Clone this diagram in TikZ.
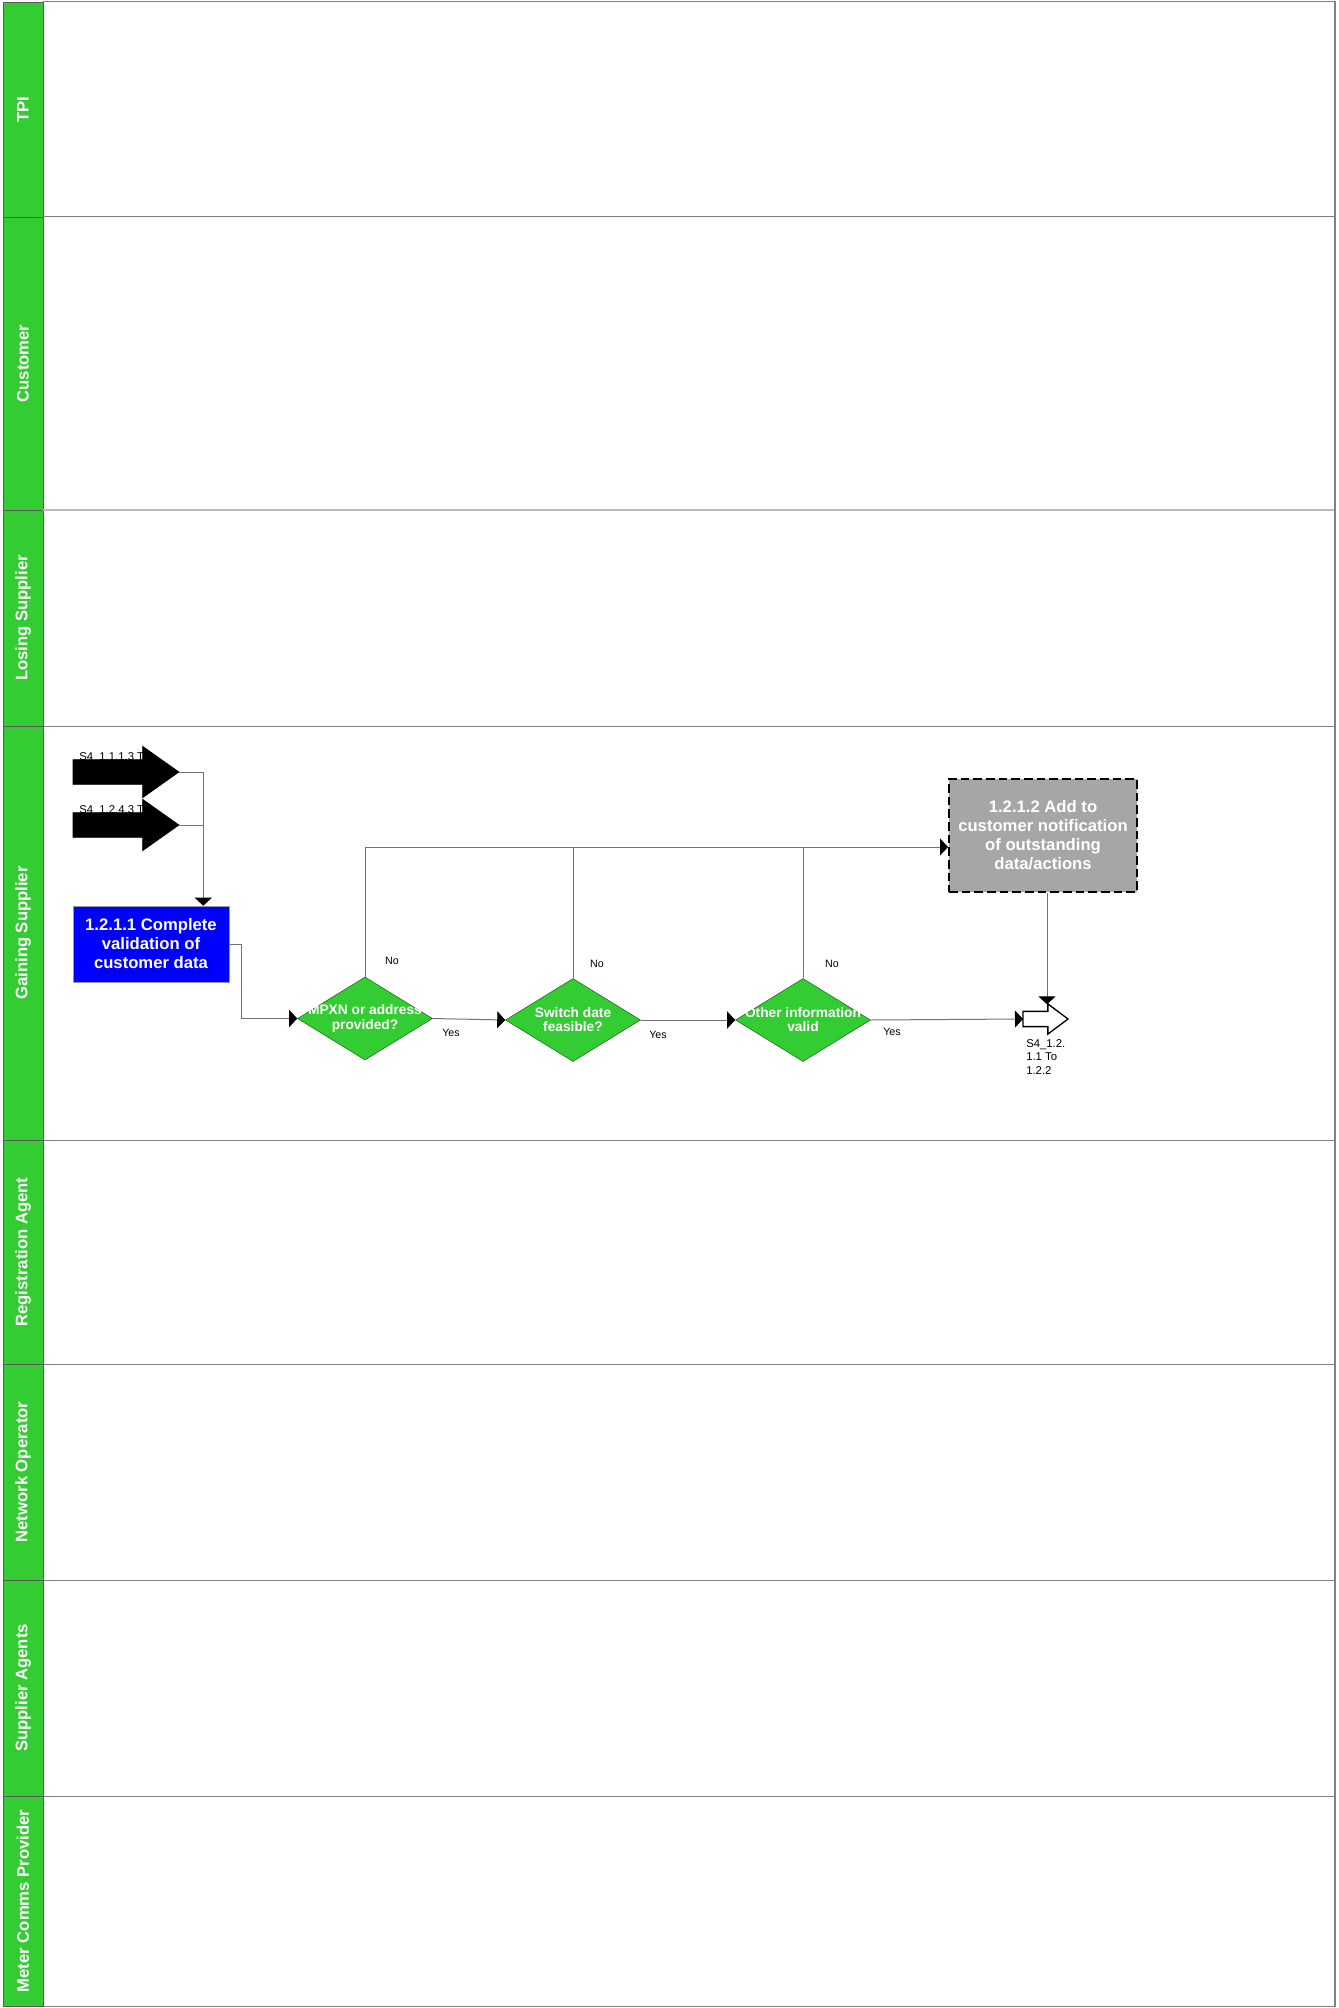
\documentclass[tikz,border=0pt]{standalone}
\usepackage{fontspec}
\setmainfont{Liberation Sans}
\usetikzlibrary{arrows.meta,shapes.geometric,shapes.arrows,calc}
\definecolor{lanegreen}{RGB}{51,204,51}
\definecolor{taskblue}{RGB}{0,0,255}
\definecolor{taskgrey}{RGB}{166,166,166}
\definecolor{lanegrey}{RGB}{128,128,128}
\tikzstyle{lanestrip}=[draw=black!65, fill=lanegreen, line width=0.6pt]
\tikzstyle{laneframe}=[draw=lanegrey, line width=0.75pt]
\tikzstyle{lanetitle}=[rotate=90, text=white, font=\fontsize{12.5}{14}\selectfont\bfseries, inner sep=0pt]
\tikzstyle{process}=[rectangle, fill=taskblue, draw=black!40, text=white, align=center, font=\fontsize{12.5}{14.25}\selectfont\bfseries, minimum width=117pt, minimum height=57pt, inner sep=0pt]
\tikzstyle{pending}=[rectangle, fill=taskgrey, draw=black, dash pattern=on 6.5pt off 3pt, line width=1.5pt, text=white, align=center, font=\fontsize{12.5}{14.25}\selectfont\bfseries, minimum width=141pt, minimum height=84.75pt, inner sep=0pt]
\tikzstyle{decision}=[diamond, fill=lanegreen, draw=black!50!lanegreen, minimum width=101.25pt, minimum height=62.25pt, inner sep=0pt]
\tikzstyle{dtext}=[text=white, align=center, font=\fontsize{10.3}{10.6}\selectfont\bfseries, inner sep=0pt]
\tikzstyle{inarrow}=[single arrow, fill=black, draw=black, minimum height=79.5pt, minimum width=38.25pt, single arrow head extend=10.125pt, single arrow tip angle=70.6, inner xsep=0pt, inner ysep=9pt, outer sep=0pt]
\tikzstyle{offpage}=[single arrow, fill=white, draw=black, line width=1pt, minimum height=33.75pt, minimum width=22.5pt, single arrow head extend=5.625pt, single arrow tip angle=73.7, inner xsep=0pt, inner ysep=5.2pt, outer sep=0pt]
\tikzstyle{connector}=[draw=black!55, line width=0.75pt]
\tikzstyle{flow}=[connector, -{Triangle[length=6pt,width=12.75pt,color=black]}]
\tikzstyle{answer}=[font=\fontsize{8}{9.6}\selectfont, inner sep=0pt]
\tikzstyle{refnote}=[font=\fontsize{8.5}{10.1}\selectfont, inner sep=0pt, align=left]

\begin{document}
\begin{tikzpicture}[x=0.75pt, y=-0.75pt]

    \useasboundingbox (0,0) rectangle (1338,2008);

    \foreach \ya/\yb/\name/\title in {2/217/tpi/TPI, 217/510/cust/Customer, 510/726/lose/Losing Supplier, 726/1140/gain/Gaining Supplier, 1140/1364/reg/Registration Agent, 1364/1580/net/Network Operator, 1580/1796/supp/Supplier Agents, 1796/2006/mcp/Meter Comms Provider}
    {
        \draw[laneframe] (43,\ya) rectangle (1335,\yb);
        \draw[lanestrip] (3,\ya) rectangle (43,\yb);
        \node[lanetitle] (lane-\name) at (23,{(\ya+\yb)/2}) {\title};
    }
    \draw[draw=black!27, line width=2pt] (43,510) -- (1335,510);
    \draw[lanegrey, line width=1.5pt] (1335,2) -- (1335,2006);

    % incoming and outgoing page references
    \node[refnote, anchor=base west] (ref-a) at (79,760) {S4\_1.1.1.3 To};
    \node[refnote, anchor=base west] (ref-b) at (79,813) {S4\_1.2.4.3 To};
    \node[inarrow, anchor=tip] (from-a) at (179,772) {};
    \node[inarrow, anchor=tip] (from-b) at (179,825) {};
    \node[offpage, anchor=tail] (to-next) at (1023,1019) {};
    \node[refnote, anchor=north west] (ref-c) at (1026,1039) {S4\_1.2.\\1.1 To\\1.2.2};

    \node[process] (validate) at (151,944) {1.2.1.1 Complete\\validation of\\customer data};
    \node[pending] (notify) at (1043,835.5) {1.2.1.2 Add to\\customer notification\\of outstanding\\data/actions};

    \node[decision, label={[dtext]center:MPXN or address\\provided?}] (mpxn) at (365,1018.5) {};
    \node[decision, label={[dtext]center:Switch date\\feasible?}] (switch) at (573,1020) {};
    \node[decision, label={[dtext]center:Other information\\valid}] (other) at (803,1020) {};

    \coordinate (merge) at ($(validate.north east)+(-26,0)$);
    \coordinate (notify-in) at ($(notify.west)+(0,11.5)$);
    \coordinate (notify-out) at ($(notify.south)+(4,0)$);
    \coordinate (next-top) at ($(to-next.north)+(0,-7)$);

    \draw[flow] (from-a.tip) -| (merge);
    \draw[connector] (from-b.tip) -- (from-b.tip -| merge);
    \draw[flow] (validate.east) -- ++(12,0) |- (mpxn.west);
    \draw[flow] (mpxn.north) |- (notify-in);
    \draw[connector] (switch.north) -- (switch.north |- notify-in);
    \draw[connector] (other.north) -- (other.north |- notify-in);

    \foreach \source/\dest in {mpxn/switch, switch/other}
        \draw[flow] (\source.east) -- (\dest.west);
    \draw[flow] (other.east) -- (to-next.tail);
    \draw[flow] (notify-out) -- (notify-out |- next-top);

    \foreach \x/\y/\txt/\name in {392/961/No/no-mpxn, 597/964/No/no-switch, 832/964/No/no-other, 451/1033/Yes/yes-mpxn, 658/1035/Yes/yes-switch, 892/1032/Yes/yes-other}
        \node[answer] (\name) at (\x,\y) {\txt};

\end{tikzpicture}
\end{document}
